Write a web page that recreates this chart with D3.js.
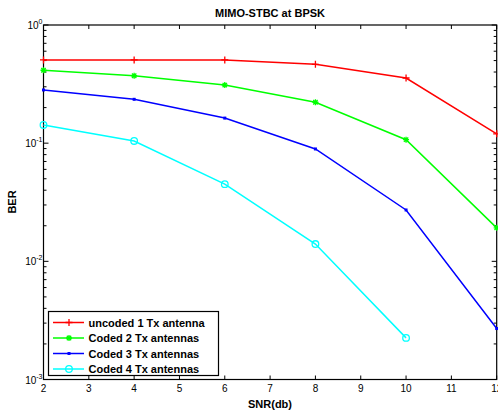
<!DOCTYPE html>
<html lang="en">
<head>
<meta charset="UTF-8">
<title>MIMO-STBC at BPSK</title>
<script src="https://d3js.org/d3.v7.min.js"></script>
<style>
  body { margin: 0; background: #fff; }
  text { font-family: "Liberation Sans", Arial, sans-serif; }
</style>
</head>
<body>
<svg id="main" width="498" height="412"></svg>
<script>
const snr = [2, 4, 6, 8, 10, 12];
const uncoded1 = [0.506, 0.506, 0.506, 0.465, 0.356, 0.12];
const coded2 = [0.414, 0.372, 0.31, 0.222, 0.107, 0.0192];
const coded3 = [0.282, 0.235, 0.163, 0.0893, 0.0272, 0.0027];
const coded4 = [0.1426, 0.1044, 0.045, 0.014, 0.00225];
const xTicks = [2, 3, 4, 5, 6, 7, 8, 9, 10, 11, 12];
const yTickExp = [0, -1, -2, -3];

const series = [
  {name: "uncoded 1 Tx antenna", values: uncoded1, color: "#ff0000", marker: "plus"},
  {name: "Coded 2 Tx antennas", values: coded2, color: "#00ff00", marker: "star"},
  {name: "Coded 3 Tx antennas", values: coded3, color: "#0000ff", marker: "dot"},
  {name: "Coded 4 Tx antennas", values: coded4, color: "#00ffff", marker: "circle"}
];

const svg = d3.select("svg#main");
const pLeft = 43.5, pRight = 496.7, pTop = 25, pBottom = 379.5;

const x = d3.scaleLinear().domain([2, 12]).range([pLeft, pRight]);
const y = d3.scaleLog().domain([1e-3, 1]).range([pBottom, pTop]);

// frame
svg.append("rect").attr("x", pLeft).attr("y", pTop)
  .attr("width", pRight - pLeft).attr("height", pBottom - pTop)
  .attr("fill", "none").attr("stroke", "#000").attr("stroke-width", 1.2);

// x ticks (bottom and top, inward)
const xt = svg.append("g");
xTicks.forEach(t => {
  xt.append("line").attr("x1", x(t)).attr("x2", x(t)).attr("y1", pBottom).attr("y2", pBottom - 4).attr("stroke", "#000");
  xt.append("line").attr("x1", x(t)).attr("x2", x(t)).attr("y1", pTop).attr("y2", pTop + 4).attr("stroke", "#000");
  xt.append("text").attr("x", x(t)).attr("y", pBottom + 12).attr("text-anchor", "middle")
    .attr("font-size", 10).text(t);
});

// y ticks, major and minor
const yt = svg.append("g");
for (let e = -3; e < 0; e++) {
  for (let m = 2; m <= 9; m++) {
    const v = m * Math.pow(10, e);
    yt.append("line").attr("x1", pLeft).attr("x2", pLeft + 3).attr("y1", y(v)).attr("y2", y(v)).attr("stroke", "#000");
    yt.append("line").attr("x1", pRight).attr("x2", pRight - 3).attr("y1", y(v)).attr("y2", y(v)).attr("stroke", "#000");
  }
}
yTickExp.forEach(e => {
  const v = Math.pow(10, e);
  yt.append("line").attr("x1", pLeft).attr("x2", pLeft + 5).attr("y1", y(v)).attr("y2", y(v)).attr("stroke", "#000");
  yt.append("line").attr("x1", pRight).attr("x2", pRight - 5).attr("y1", y(v)).attr("y2", y(v)).attr("stroke", "#000");
  const lab = yt.append("text").attr("x", pLeft - 1).attr("y", y(v) + 4).attr("text-anchor", "end").attr("font-size", 10);
  lab.append("tspan").text("10");
  lab.append("tspan").attr("dy", -5).attr("font-size", 7).text(e);
});

// lines
const line = d3.line().x((d, i) => x(snr[i])).y(d => y(d));

function drawMarker(g, cx, cy, s) {
  if (s.marker === "plus") {
    g.append("path").attr("d", `M${cx - 3.5},${cy}H${cx + 3.5}M${cx},${cy - 3.5}V${cy + 3.5}`)
      .attr("stroke", s.color).attr("stroke-width", 1.3);
  } else if (s.marker === "star") {
    g.append("path").attr("d", `M${cx - 3},${cy}H${cx + 3}M${cx},${cy - 3}V${cy + 3}M${cx - 2.2},${cy - 2.2}L${cx + 2.2},${cy + 2.2}M${cx - 2.2},${cy + 2.2}L${cx + 2.2},${cy - 2.2}`)
      .attr("stroke", s.color).attr("stroke-width", 1.3);
  } else if (s.marker === "dot") {
    g.append("rect").attr("x", cx - 1.5).attr("y", cy - 1.5).attr("width", 3).attr("height", 3).attr("fill", s.color);
  } else {
    g.append("circle").attr("cx", cx).attr("cy", cy).attr("r", 3.3)
      .attr("fill", "none").attr("stroke", s.color).attr("stroke-width", 1.3);
  }
}

const plot = svg.append("g");
series.forEach(s => {
  plot.append("path").datum(s.values).attr("d", line)
    .attr("fill", "none").attr("stroke", s.color).attr("stroke-width", 1.5);
  s.values.forEach((v, i) => drawMarker(plot, x(snr[i]), y(v), s));
});

// legend
const lg = svg.append("g");
lg.append("rect").attr("x", 48.5).attr("y", 311.5).attr("width", 170).attr("height", 64)
  .attr("fill", "#fff").attr("stroke", "#000").attr("stroke-width", 1.2);
series.forEach((s, i) => {
  const ly = 322.5 + i * 15.5;
  lg.append("line").attr("x1", 53).attr("x2", 84).attr("y1", ly).attr("y2", ly)
    .attr("stroke", s.color).attr("stroke-width", 1.5);
  drawMarker(lg, 69, ly, s);
  lg.append("text").attr("x", 88.5).attr("y", ly + 4).attr("font-size", 11)
    .attr("font-weight", "bold").text(s.name);
});

// title and labels
svg.append("text").attr("x", 270).attr("y", 17).attr("text-anchor", "middle")
  .attr("font-size", 11).attr("font-weight", "bold").text("MIMO-STBC at BPSK");
svg.append("text").attr("x", 270).attr("y", 408).attr("text-anchor", "middle")
  .attr("font-size", 11).attr("font-weight", "bold").text("SNR(db)");
svg.append("text").attr("transform", "translate(16,202) rotate(-90)").attr("text-anchor", "middle")
  .attr("font-size", 11).attr("font-weight", "bold").text("BER");
</script>
</body>
</html>
